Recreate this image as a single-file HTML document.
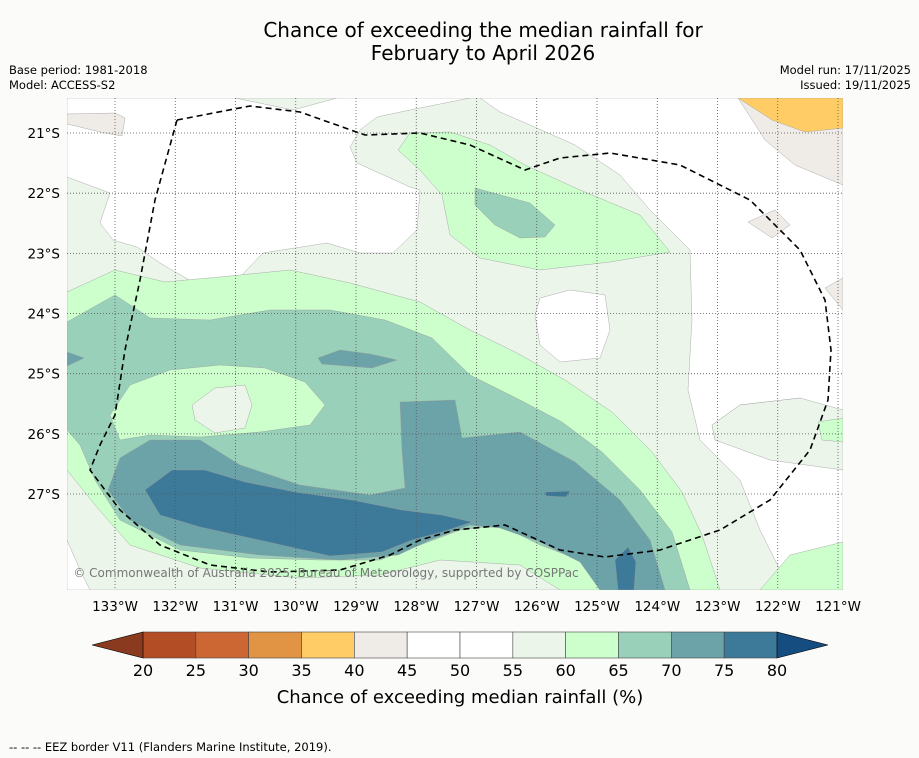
<!DOCTYPE html>
<html><head><meta charset="utf-8"><style>
body{margin:0;background:#fbfcfa;font-family:"DejaVu Sans",sans-serif;}
#wrap{position:relative;width:919px;height:758px;overflow:hidden;background:#fbfcfa}
.t{position:absolute;color:#000}
</style></head><body>
<div id="wrap">
<div class="t" style="left:0;width:966px;top:19px;text-align:center;font-size:20px;line-height:23px">Chance of exceeding the median rainfall for<br>February to April 2026</div>
<div class="t" style="left:9px;top:63px;font-size:11.5px;line-height:15px">Base period: 1981-2018<br>Model: ACCESS-S2</div>
<div class="t" style="right:8px;top:63px;font-size:11.5px;line-height:15px;text-align:right">Model run: 17/11/2025<br>Issued: 19/11/2025</div>
<svg id="svg" width="919" height="758" style="position:absolute;left:0;top:0">
<defs><clipPath id="mc"><rect x="67" y="98" width="776" height="492"/></clipPath></defs>
<g clip-path="url(#mc)" stroke="#999" stroke-width="0.4">
<rect x="67" y="98" width="776" height="492" fill="#ebf5ea"/>
<path fill="#fff" d="M67,98 L235,98 L293,110 L337,98 L470,98 L410,110 L377,117 L360,130 L350,147 L357,163 L410,187 L420,190 L417,230 L393,253 L360,253 L327,243 L263,253 L220,298 L160,263 L137,247 L113,240 L100,223 L110,193 L67,177 Z"/>
<path fill="#fff" d="M480,98 L843,98 L843,420 L800,398 L740,405 L712,425 L715,440 L770,455 L843,470 L843,590 L790,590 L760,530 L740,480 L700,440 L688,390 L692,320 L690,250 L650,210 L620,175 L575,145 L530,125 L500,112 Z"/>
<path fill="#ebf5ea" d="M712,425 L740,405 L800,398 L843,410 L843,470 L770,460 L715,440 Z"/>
<path fill="#fff" d="M540,298 L570,290 L605,295 L610,330 L600,358 L560,362 L540,345 L535,315 Z"/>
<path fill="#fff" d="M67,540 L80,570 L90,590 L67,590 Z"/>
<path fill="#ccffcc" d="M398,150 L410,133 L450,132 L490,145 L525,165 L580,190 L640,215 L670,252 L610,262 L540,270 L480,258 L450,235 L442,195 L420,170 Z"/>
<path fill="#ccffcc" d="M67,292 L115,270 L165,282 L230,276 L290,270 L350,283 L420,302 L470,330 L515,352 L565,380 L612,412 L652,452 L682,492 L702,535 L720,590 L560,590 L520,565 L440,560 L380,575 L300,578 L200,568 L130,545 L95,505 L67,470 Z"/>
<path fill="#ccffcc" d="M760,590 L790,555 L843,542 L843,590 Z"/>
<path fill="#ccffcc" d="M818,422 L843,418 L843,442 L822,440 Z"/>
<path fill="#99d0b9" d="M67,322 L115,295 L150,318 L210,320 L270,310 L330,310 L385,320 L432,338 L470,375 L520,400 L562,422 L602,452 L640,490 L672,532 L690,590 L600,590 L580,560 L540,545 L500,525 L460,530 L420,545 L380,560 L320,560 L250,558 L180,550 L120,520 L95,480 L80,445 L67,430 Z"/>
<path fill="#ccffcc" d="M110,415 L130,385 L170,370 L220,365 L265,368 L305,382 L325,405 L310,425 L260,432 L200,437 L150,435 L120,440 Z"/>
<path fill="#ebf5ea" d="M192,405 L215,388 L245,385 L252,405 L245,428 L215,433 L195,420 Z"/>
<path fill="#99d0b9" d="M475,188 L530,203 L555,225 L545,237 L520,238 L495,225 L475,205 Z"/>
<path fill="#6ba3a8" d="M400,402 L455,400 L462,438 L520,432 L575,462 L620,500 L650,540 L665,590 L600,590 L580,562 L540,542 L500,528 L470,525 L430,540 L398,555 L340,560 L260,555 L180,545 L130,520 L108,490 L120,458 L150,440 L200,440 L240,465 L300,485 L370,495 L405,488 L402,450 Z"/>
<path fill="#6ba3a8" d="M318,358 L340,350 L370,354 L397,360 L372,368 L322,364 Z"/>
<path fill="#6ba3a8" d="M67,352 L84,358 L67,366 Z"/>
<path fill="#3d7a99" d="M145,490 L172,470 L205,470 L245,482 L295,492 L352,500 L402,510 L442,515 L472,522 L442,532 L412,540 L382,552 L330,556 L268,542 L200,527 L160,515 Z"/>
<path fill="#3d7a99" d="M615,560 L628,547 L636,562 L634,590 L618,590 Z"/>
<path fill="#3d7a99" d="M545,492 L570,491 L566,497 L546,496 Z"/>
<path fill="#efebe7" d="M738,98 L843,98 L843,185 L795,165 L765,140 Z"/>
<path fill="#ffcc66" d="M738,98 L843,98 L843,128 L805,132 L772,120 Z"/>
<path fill="#efebe7" d="M67,114 L115,113 L125,118 L122,136 L105,133 L67,124 Z"/>
<path fill="#efebe7" d="M748,222 L775,210 L790,225 L772,238 Z"/>
<path fill="#efebe7" d="M825,288 L843,278 L843,310 Z"/>
<g id="grid"></g>
<path fill="none" stroke="#000" stroke-width="1.6" stroke-dasharray="6,4" d="M177,120 L250,106 L300,112 L365,135 L420,133 L470,145 L525,170 L560,158 L610,153 L680,165 L750,200 L800,250 L825,300 L831,350 L828,400 L810,450 L770,500 L720,530 L660,550 L605,557 L560,550 L505,525 L455,530 L420,540 L390,555 L340,570 L270,572 L210,565 L160,545 L120,510 L90,470 L100,445 L115,415 L125,350 L140,280 L155,200 Z"/>
</g>
<text x="326" y="577" text-anchor="middle" font-size="12" fill="#777" font-family="DejaVu Sans,sans-serif">© Commonwealth of Australia 2025, Bureau of Meteorology, supported by COSPPac</text>
<g id="ticks" font-family="DejaVu Sans,sans-serif" font-size="13.5"></g>
<g id="cbar"></g>
<text x="460" y="703" text-anchor="middle" font-size="18" font-family="DejaVu Sans,sans-serif">Chance of exceeding median rainfall (%)</text>
<text x="9" y="751" font-size="11.5" font-family="DejaVu Sans,sans-serif">--  --  -- EEZ border V11 (Flanders Marine Institute, 2019).</text>
</svg>
</div>
<script>
const lonTicks=[133,132,131,130,129,128,127,126,125,124,123,122,121];
const latTicks=[21,22,23,24,25,26,27];
const levels=[20,25,30,35,40,45,50,55,60,65,70,75,80];
const binColors=["#b34d26","#cc6633","#e09444","#ffcc66","#efebe7","#ffffff","#ffffff","#ebf5ea","#ccffcc","#99d0b9","#6ba3a8","#3d7a99"];
const NS="http://www.w3.org/2000/svg";
const xLon=l=>115+(133-l)*60.25;
const yLat=l=>133+(l-21)*60.17;
const xLev=v=>143+(v-20)*(777-143)/60;
function mk(t,a,p){const e=document.createElementNS(NS,t);for(const k in a)e.setAttribute(k,a[k]);p.appendChild(e);return e;}
const grid=document.getElementById('grid'),ticks=document.getElementById('ticks'),cb=document.getElementById('cbar');
lonTicks.forEach(l=>{
 const ln=mk('line',{x1:xLon(l),x2:xLon(l),y1:98,y2:590,stroke:'#555','stroke-width':0.8,'stroke-dasharray':'1,2'},grid);
 
 
 const t=mk('text',{x:xLon(l),y:611,'text-anchor':'middle'},ticks);t.textContent=l+'°W';
 
 
});
latTicks.forEach(l=>{
 const ln=mk('line',{x1:67,x2:843,y1:yLat(l),y2:yLat(l),stroke:'#555','stroke-width':0.8,'stroke-dasharray':'1,2'},grid);
 
 
 const t=mk('text',{x:60,y:yLat(l)+5,'text-anchor':'end'},ticks);t.textContent=l+'°S';
 
 
});
binColors.forEach((c,i)=>{
 const r=mk('rect',{x:xLev(levels[i]),y:632,width:xLev(levels[i+1])-xLev(levels[i]),height:26,fill:c,stroke:'#444','stroke-width':0.6},cb);
 
 
});
const lt=mk('polygon',{points:`92,645 ${xLev(20)},632 ${xLev(20)},658`,fill:'#8a3a1e',stroke:'#000','stroke-width':0.6},cb);


const rt=mk('polygon',{points:`828,645 ${xLev(80)},632 ${xLev(80)},658`,fill:'#154d80',stroke:'#000','stroke-width':0.6},cb);


levels.forEach(v=>{
 const t=mk('text',{x:xLev(v),y:676,'text-anchor':'middle','font-size':16,'font-family':'DejaVu Sans,sans-serif'},cb);t.textContent=v;
 
 
});
</script>
</body></html>
